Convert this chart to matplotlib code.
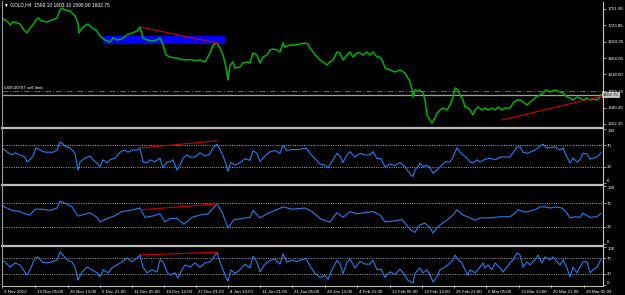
import matplotlib
matplotlib.use('Agg')
import matplotlib.pyplot as plt
from matplotlib.lines import Line2D
from matplotlib.patches import Rectangle
from matplotlib.transforms import ScaledTranslation

plt.rcParams['font.family'] = ['Liberation Sans', 'DejaVu Sans']

# GOLD H4, one reading every few bars (bar index, close)
price_bar = [0, 3, 6, 8, 11, 15, 18, 22, 25, 28, 31, 34, 36, 40, 45, 50, 55, 58, 60, 63,
             68, 73, 76, 77, 81, 86, 90, 94, 98, 103, 108, 111, 115, 120, 125, 130, 135, 138, 141, 145,
             150, 155, 158, 161, 164, 168, 173, 178, 183, 188, 193, 198, 203, 208, 211, 215, 218, 221, 224, 226,
             228, 231, 233, 238, 241, 245, 248, 251, 255, 258, 261, 265, 268, 271, 275, 278, 281, 283, 288, 293,
             298, 303, 306, 308, 311, 315, 318, 321, 325, 328, 331, 335, 338, 341, 345, 348, 351, 355, 358, 361,
             365, 368, 371, 375, 378, 381, 383, 388, 393, 398, 403, 406, 408, 410, 411, 413, 416, 418, 421, 423,
             425, 428, 430, 433, 435, 438, 441, 445, 448, 451, 453, 456, 458, 461, 463, 465, 468, 471, 473, 476,
             480, 483, 486, 490, 493, 496, 500, 503, 508, 511, 515, 518, 521, 525, 528, 531, 534, 538, 541, 544,
             548, 553, 558, 561, 565, 568, 571, 575, 578, 581, 585, 588, 591, 595, 598, 599]
price = [1736.2, 1732.8, 1729.3, 1724.0, 1729.3, 1727.5, 1725.8, 1715.3, 1710.1, 1718.8,
         1724.0, 1732.8, 1736.2, 1731.0, 1729.3, 1732.8, 1736.2, 1750.2, 1753.6, 1750.2,
         1748.4, 1739.7, 1727.5, 1710.1, 1720.6, 1725.8, 1718.8, 1715.3, 1704.9, 1697.9,
         1694.4, 1701.4, 1697.9, 1699.7, 1706.6, 1710.1, 1713.6, 1720.6, 1701.4, 1697.9,
         1696.2, 1697.9, 1701.4, 1689.2, 1671.8, 1668.3, 1666.6, 1665.0, 1663.0, 1664.0,
         1662.0, 1663.1, 1659.6, 1675.3, 1689.2, 1692.7, 1684.0, 1671.8, 1650.9, 1628.3,
         1654.4, 1659.6, 1649.2, 1650.9, 1657.9, 1659.6, 1657.9, 1675.3, 1671.8, 1657.9,
         1668.3, 1671.8, 1680.5, 1682.3, 1680.5, 1677.0, 1692.7, 1685.7, 1689.2, 1689.2,
         1691.0, 1692.7, 1691.0, 1684.0, 1677.0, 1668.3, 1663.1, 1659.6, 1654.4, 1659.6,
         1663.1, 1677.0, 1675.3, 1663.1, 1671.8, 1677.0, 1668.3, 1675.3, 1675.3, 1671.8,
         1677.0, 1671.8, 1677.0, 1668.3, 1668.3, 1659.6, 1649.2, 1645.7, 1642.2, 1645.7,
         1640.5, 1631.8, 1624.8, 1610.9, 1598.7, 1610.9, 1609.1, 1610.9, 1605.7, 1593.5,
         1567.4, 1558.7, 1553.5, 1562.1, 1570.9, 1576.1, 1579.5, 1576.1, 1584.8, 1598.7,
         1614.4, 1610.9, 1602.2, 1593.5, 1581.3, 1581.3, 1576.1, 1567.4, 1576.1, 1581.3,
         1576.1, 1579.5, 1576.1, 1579.5, 1576.1, 1581.3, 1576.1, 1579.5, 1579.5, 1588.3,
         1593.5, 1593.5, 1590.0, 1584.8, 1590.0, 1593.5, 1598.7, 1602.2, 1605.7, 1610.9,
         1607.4, 1610.9, 1607.4, 1605.7, 1598.7, 1597.0, 1593.5, 1598.7, 1597.0, 1593.5,
         1597.0, 1593.5, 1595.2, 1593.5, 1598.7, 1602.75]

rsi14_bar = [0, 3, 6, 10, 13, 18, 23, 25, 28, 31, 34, 38, 43, 48, 51, 55, 58, 60, 63, 68,
             73, 76, 78, 83, 88, 91, 95, 98, 101, 105, 108, 113, 118, 123, 126, 130, 135, 138, 141, 145,
             148, 153, 158, 161, 165, 168, 171, 175, 178, 181, 185, 188, 193, 198, 203, 208, 211, 215, 218, 221,
             224, 226, 229, 233, 238, 243, 248, 251, 255, 258, 263, 268, 273, 278, 281, 285, 290, 295, 300, 304,
             308, 313, 318, 323, 326, 330, 335, 338, 341, 345, 348, 353, 358, 363, 368, 371, 375, 379, 383, 388,
             393, 398, 403, 406, 409, 411, 413, 416, 418, 421, 425, 428, 431, 435, 438, 443, 448, 451, 453, 455,
             458, 461, 465, 468, 471, 475, 478, 483, 488, 493, 498, 503, 508, 511, 515, 518, 521, 525, 528, 533,
             538, 541, 545, 548, 553, 558, 561, 565, 568, 571, 575, 578, 581, 585, 588, 591, 595, 599]
rsi14 = [65, 61, 56, 52, 56, 52, 48, 39, 43, 50, 65, 61, 57, 57, 57, 61, 76, 74, 68, 65,
         55, 24, 39, 46, 50, 43, 37, 30, 43, 37, 43, 46, 57, 61, 57, 61, 61, 65, 39, 37,
         43, 39, 46, 28, 39, 39, 43, 24, 33, 46, 52, 48, 48, 56, 50, 54, 65, 72, 62, 50,
         35, 22, 38, 33, 38, 45, 42, 60, 55, 40, 50, 58, 60, 55, 70, 60, 62, 62, 63, 65,
         55, 45, 35, 33, 28, 40, 55, 50, 38, 52, 58, 48, 55, 52, 52, 58, 45, 45, 30, 35,
         32, 38, 30, 22, 15, 12, 25, 30, 37, 30, 33, 28, 18, 24, 30, 39, 39, 48, 57, 65,
         57, 52, 46, 39, 37, 43, 39, 44, 46, 43, 48, 48, 48, 56, 67, 67, 57, 55, 57, 61,
         68, 72, 65, 65, 67, 61, 65, 48, 37, 46, 39, 43, 55, 54, 44, 46, 48, 55.8215]

rsi21_bar = [0, 5, 10, 18, 23, 28, 33, 40, 48, 55, 58, 63, 70, 76, 80, 88, 95, 98, 105, 112,
             120, 128, 138, 143, 150, 158, 163, 168, 175, 182, 190, 198, 206, 215, 220, 226, 232, 240, 248, 251,
             258, 265, 273, 281, 290, 303, 310, 318, 323, 328, 335, 341, 348, 355, 363, 371, 378, 383, 393, 400,
             406, 409, 413, 416, 418, 423, 428, 431, 435, 438, 445, 451, 455, 461, 468, 473, 478, 488, 498, 508,
             513, 516, 523, 533, 538, 543, 548, 553, 560, 565, 568, 573, 578, 581, 588, 595, 599]
rsi21 = [66, 62, 58, 56, 52, 50, 60, 60, 58, 62, 74, 70, 64, 48, 50, 54, 46, 38, 44, 48,
         56, 58, 62, 46, 48, 52, 38, 44, 44, 34, 46, 50, 52, 69, 55, 28, 42, 44, 46, 58,
         45, 52, 58, 64, 60, 62, 56, 44, 40, 38, 54, 46, 56, 52, 54, 56, 50, 38, 40, 42,
         30, 24, 20, 30, 33, 36, 28, 19, 28, 33, 41, 50, 59, 50, 45, 41, 45, 45, 47, 47,
         53, 59, 55, 59, 64, 64, 62, 64, 62, 53, 45, 47, 46, 53, 46, 47, 52.9777]

rsi7_bar = [0, 3, 8, 13, 18, 23, 25, 28, 33, 36, 40, 45, 50, 55, 58, 61, 65, 70, 73, 76,
            80, 85, 90, 95, 98, 101, 106, 110, 115, 120, 125, 130, 135, 138, 141, 145, 150, 155, 158, 161,
            165, 168, 173, 176, 180, 183, 188, 193, 198, 203, 208, 211, 215, 218, 221, 224, 226, 229, 233, 238,
            243, 248, 251, 255, 258, 263, 268, 273, 278, 281, 285, 290, 295, 300, 304, 308, 313, 318, 323, 326,
            330, 335, 338, 341, 345, 348, 353, 358, 363, 368, 371, 375, 379, 383, 388, 393, 398, 403, 406, 409,
            411, 413, 416, 418, 421, 425, 428, 431, 435, 438, 443, 448, 451, 453, 456, 460, 463, 466, 468, 473,
            478, 481, 483, 486, 490, 493, 498, 501, 505, 508, 511, 515, 518, 521, 525, 528, 533, 536, 540, 543,
            548, 551, 555, 558, 561, 565, 568, 571, 575, 578, 581, 585, 588, 591, 595, 599]
rsi7 = [66, 61, 47, 58, 53, 34, 26, 40, 71, 74, 61, 58, 61, 66, 87, 79, 66, 61, 47, 13,
        34, 47, 40, 32, 21, 40, 32, 45, 53, 61, 71, 61, 71, 79, 47, 32, 40, 34, 66, 61,
        34, 26, 32, 18, 40, 53, 47, 58, 47, 58, 61, 70, 86, 60, 40, 20, 10, 40, 30, 40,
        55, 45, 75, 60, 35, 55, 65, 68, 55, 82, 60, 65, 62, 67, 70, 50, 30, 20, 25, 15,
        40, 65, 55, 30, 60, 68, 45, 62, 55, 55, 65, 40, 42, 20, 35, 28, 42, 25, 12, 8,
        5, 30, 40, 45, 32, 40, 26, 8, 21, 40, 47, 58, 66, 79, 66, 58, 40, 26, 40, 32,
        47, 58, 45, 53, 40, 58, 45, 34, 47, 58, 66, 84, 79, 47, 61, 53, 66, 79, 58, 74,
        66, 74, 61, 53, 66, 45, 21, 47, 32, 47, 61, 61, 32, 40, 47, 67.7452]

main_ticks = [1552.15, 1580.20, 1609.10, 1638.00, 1666.05, 1694.95, 1723.85, 1751.90]
rsi_ticks = [0, 30, 70, 100]
rsi_levels = [30, 70]

time_bar = [0, 33, 66, 98, 130, 162, 194, 226, 258, 290, 323, 355, 388, 420, 452, 484, 517, 549, 582]
time_labels = ['9 Nov 2012', '19 Nov 05:00', '26 Nov 13:00', '5 Dec 21:00', '11 Dec 05:00',
               '18 Dec 13:00', '27 Dec 01:00', '4 Jan 13:00', '11 Jan 21:00', '21 Jan 05:00',
               '28 Jan 13:00', '4 Feb 21:00', '12 Feb 05:00', '19 Feb 13:00', '26 Feb 21:00',
               '6 Mar 05:00', '13 Mar 13:00', '20 Mar 21:00', '28 Mar 05:00']

bid = 1602.75
sell_limit = 1609.10
zone_bars = (101, 223)
zone_prices = (1691.0, 1705.4)
trend_main = [([138, 215], [1720.6, 1692.7]), ([500, 600], [1558.7, 1600.2])]
trend_rsi14 = ([138, 215], [65, 78])
trend_rsi21 = ([138, 215], [59, 69])
trend_rsi7 = ([138, 215], [79, 86])

FG = 'white'
GREEN = '#00b000'
BLUE_LINE = '#2080f0'
RED = '#d00000'
FS = 3.2
W, H = 625, 295

fig = plt.figure(figsize=(W / 100, H / 100), dpi=100, facecolor='black')


def panel(y0, y1):
    ax = fig.add_axes([2 / W, 1 - y1 / H, 601 / W, (y1 - y0) / H])
    ax.set_facecolor('black')
    for s in ['top', 'bottom', 'left']:
        ax.spines[s].set_visible(False)
    ax.spines['right'].set_color('#c8c8c8')
    ax.spines['right'].set_linewidth(0.8)
    ax.yaxis.tick_right()
    ax.tick_params(axis='y', colors='#c8c8c8', labelcolor=FG, labelsize=FS,
                   length=2, width=0.5, pad=1.0)
    ax.set_xlim(0, 601)
    ax.set_xticks([])
    ax.xaxis.get_offset_text().set_visible(False)
    ax.yaxis.get_offset_text().set_visible(False)
    return ax


ax = panel(2, 127)
ax14 = panel(129, 183)
ax21 = panel(186, 244)
ax7 = panel(247, 285)

# main price window
ax.set_ylim(1546.5, 1764.0)
ax.add_patch(Rectangle((zone_bars[0], zone_prices[0]), zone_bars[1] - zone_bars[0],
                       zone_prices[1] - zone_prices[0], color='#0000ff', zorder=1, lw=0))
ax.axhline(sell_limit, color=GREEN, lw=0.7, ls=(0, (6, 2, 1, 2)), zorder=2)
ax.axhline(bid, color='#a0a0a0', lw=0.9, zorder=2)
ax.plot(price_bar, price, color=GREEN, lw=1.1, zorder=3)
for xs, ys in trend_main:
    ax.plot(xs, ys, color=RED, lw=0.8, zorder=4)
ax.set_yticks(main_ticks)
ax.set_yticklabels(['%.2f' % t for t in main_ticks])
ax.text(1.0, bid, '%.2f' % bid, transform=ax.get_yaxis_transform(), fontsize=FS,
        color='black', va='center', ha='left', clip_on=False,
        bbox=dict(boxstyle='square,pad=0.12', fc='#c8c8c8', ec='white', lw=0.4))
ax.text(2, sell_limit + 2.5, '#49530707 sell limit', fontsize=FS, color=FG, va='bottom')

# RSI windows
for a, xs, ys, tr, name in [(ax14, rsi14_bar, rsi14, trend_rsi14, 'RSI(14) 55.8215'),
                            (ax21, rsi21_bar, rsi21, trend_rsi21, 'RSI(21) 52.9777'),
                            (ax7, rsi7_bar, rsi7, trend_rsi7, 'RSI(7) 67.7452')]:
    a.set_ylim(0, 100)
    for lv in rsi_levels:
        a.axhline(lv, color='#b0b0b0', lw=0.6, ls=(0, (1.2, 1.5)))
    a.plot(xs, ys, color=BLUE_LINE, lw=0.8)
    a.plot(tr[0], tr[1], color=RED, lw=0.8)
    a.set_yticks(rsi_ticks)
    a.set_yticklabels([str(t) for t in rsi_ticks])
    labs = a.get_yticklabels()
    labs[0].set_va('bottom')
    labs[-1].set_va('top')
    a.text(2, 0.96, name, transform=a.get_yaxis_transform(), fontsize=FS, color=FG, va='top')

ax7.text(2, 0.06, 'FXOpen MetaTrader, \u00a9 2001-2012, MetaQuotes Software Corp.',
         transform=ax7.get_yaxis_transform(), fontsize=FS, color=FG, va='bottom')

# time axis
ax7.set_xticks(time_bar)
ax7.set_xticklabels(time_labels)
ax7.tick_params(axis='x', colors='#c8c8c8', labelcolor=FG, labelsize=FS,
                length=2.5, width=0.5, pad=0.8)
shift = ScaledTranslation(2 / 100, 0, fig.dpi_scale_trans)
for lab in ax7.get_xticklabels():
    lab.set_ha('left')
    lab.set_transform(lab.get_transform() + shift)

# window frame and separators
for y in [128, 184.5, 245.5]:
    fig.add_artist(Line2D([2 / W, 603 / W], [1 - y / H] * 2, color='#bdbdbd', lw=1.6))
fig.add_artist(Line2D([2 / W, 603 / W], [1 - 285.5 / H] * 2, color='#bdbdbd', lw=0.8))
fig.add_artist(Line2D([2 / W, 2 / W], [1 - 286 / H, 1 - 1 / H], color='#9a9a9a', lw=0.8))

fig.text(4 / W, 1 - 5 / H, '\u25bc GOLD,H4  1599.10 1603.10 1598.90 1602.75',
         fontsize=3.5, color=FG, va='center')

fig.savefig('out.png', dpi=100, facecolor='black')
